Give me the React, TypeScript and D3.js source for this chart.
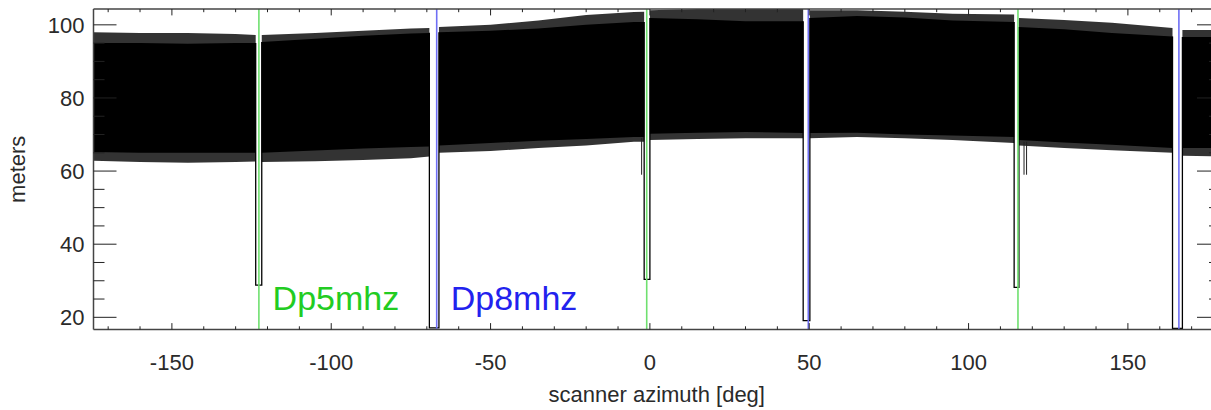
import { useEffect, useRef } from "react";
import * as d3 from "d3";

// envelope nodes of the dense range signal (deg)
const azimuth = [-174.6, -160, -145, -130, -123.7, -121.8, -105, -90, -75, -69.2, -66.2, -50, -35, -20, -5, -1.8, 0, 15, 30, 48.1, 50.2, 65, 80, 95, 114.3, 115.8, 130, 145, 164, 167.1, 178.9];
const upperTip = [98, 97.8, 97.8, 97.5, 97.2, 97.2, 97.8, 98.4, 99, 99.1, 99.4, 100, 101.2, 102.7, 103.5, 103.6, 104, 104.3, 104.3, 104.3, 104, 104, 103.6, 103, 102.8, 101.9, 101.3, 100.6, 99.1, 98.6, 98.6];
const upperCore = [95, 95, 94.8, 95, 95, 95.3, 96.2, 97, 97.6, 97.8, 98, 98.4, 99, 100, 100.8, 100.8, 101.9, 101.5, 101, 101, 101.9, 102.4, 102, 101.2, 100.8, 99.4, 98.8, 97.8, 96.8, 96.7, 96.7];
const lowerCore = [65.2, 65, 65, 65, 65, 65, 65.6, 66.2, 66.6, 66.7, 67, 67.7, 68.3, 68.8, 69.3, 69.3, 70.2, 70.5, 70.7, 70.4, 70.4, 70.5, 70, 69.7, 69.3, 68.5, 67.8, 67.2, 66.3, 66.3, 66.3];
const lowerTip = [62.8, 62.5, 62.3, 62.5, 62.6, 62.5, 62.7, 63, 63.5, 64, 65, 65.5, 66.3, 67, 68, 68, 68.5, 68.8, 69, 69, 69, 69.3, 69, 68.5, 67.7, 67, 66.3, 65.7, 65, 64.2, 64];

// drop-outs where the beam hits the dipoles
const dipStart = [-123.7, -69.2, -1.8, 48.1, 114.3, 164];
const dipEnd = [-121.8, -66.2, 0, 50.2, 115.8, 167.1];
const dipBottom = [28.8, 17.1, 30.4, 19.1, 28.2, 17.0];

// isolated short returns
const strayAz = [-2.6, 117.4, 118.2];
const strayTop = [69, 68, 68];
const strayLow = [59, 59, 59];

// dipole positions
const dp5Azimuth = [-122.7, -1.0, 115.5];
const dp8Azimuth = [-66.9, 49.7, 166.0];
const labelText = ["Dp5mhz", "Dp8mhz"];
const labelAz = [-118.4, -62.5];
const labelValue = [22.0, 22.0];

const xTicks = [-150, -100, -50, 0, 50, 100, 150];
const yTicks = [20, 40, 60, 80, 100];

export default function App() {
    const svgRef = useRef<SVGSVGElement>(null);

    useEffect(() => {
        if (!svgRef.current) return;
        const svg = d3.select(svgRef.current);
        svg.selectAll("*").remove();

        const left = 93.5, right = 1220, top = 9, bottom = 329.5;
        const font = "'Liberation Sans', Arial, Helvetica, sans-serif";
        const txt = "#2a2a2a";
        const fs = 22;

        const x = d3.scaleLinear().domain([-174.6, 178.9]).range([left, right]);
        const y = d3.scaleLinear().domain([16.67, 104.33]).range([bottom, top]);

        svg.append("clipPath").attr("id", "plot")
            .append("rect").attr("x", left).attr("y", top).attr("width", right - left).attr("height", bottom - top);

        const g = svg.append("g").attr("clip-path", "url(#plot)");

        // split the envelope at the drop-outs
        const pts = azimuth.map((a, i) => ({
            a, seg: dipEnd.filter(e => e <= a).length,
            ut: upperTip[i], uc: upperCore[i], lc: lowerCore[i], lt: lowerTip[i],
        }));
        const segs = d3.groups(pts, d => d.seg).map(d => d[1]);

        const outer = d3.area<any>().x(d => x(d.a)).y0(d => y(d.lt)).y1(d => y(d.ut));
        const inner = d3.area<any>().x(d => x(d.a)).y0(d => y(d.lc)).y1(d => y(d.uc));

        segs.forEach(s => {
            g.append("path").attr("d", outer(s)).attr("fill", "#000").attr("opacity", 0.8);
            g.append("path").attr("d", inner(s)).attr("fill", "#000");
        });

        // drop-out outlines
        dipStart.forEach((s, i) => {
            const i0 = azimuth.indexOf(s);
            const i1 = azimuth.indexOf(dipEnd[i]);
            const p = d3.path();
            p.moveTo(x(s), y(upperCore[i0]));
            p.lineTo(x(s), y(dipBottom[i]));
            p.lineTo(x(dipEnd[i]), y(dipBottom[i]));
            p.lineTo(x(dipEnd[i]), y(upperCore[i1]));
            g.append("path").attr("d", p.toString())
                .attr("fill", "none").attr("stroke", "#000").attr("stroke-width", 1.3);
        });

        strayAz.forEach((a, i) => {
            g.append("line").attr("x1", x(a)).attr("x2", x(a))
                .attr("y1", y(strayTop[i])).attr("y2", y(strayLow[i]))
                .attr("stroke", "#222").attr("stroke-width", 1);
        });

        // dipole markers
        dp5Azimuth.forEach(a => {
            g.append("line").attr("x1", x(a)).attr("x2", x(a)).attr("y1", top).attr("y2", bottom)
                .attr("stroke", "#6fe06f").attr("stroke-width", 1.6);
        });
        dp8Azimuth.forEach(a => {
            g.append("line").attr("x1", x(a)).attr("x2", x(a)).attr("y1", top).attr("y2", bottom)
                .attr("stroke", "#6f6ff5").attr("stroke-width", 1.6);
        });

        labelText.forEach((t, i) => {
            svg.append("text").attr("x", x(labelAz[i])).attr("y", y(labelValue[i]))
                .attr("font-family", font).attr("font-size", 34)
                .attr("fill", i === 0 ? "#22cc22" : "#2222ee").text(t);
        });

        // frame
        const axis = svg.append("g").attr("stroke", "#444").attr("stroke-width", 1.5);
        axis.append("line").attr("x1", left).attr("x2", right).attr("y1", bottom).attr("y2", bottom);
        axis.append("line").attr("x1", left).attr("x2", right).attr("y1", top).attr("y2", top);
        axis.append("line").attr("x1", left).attr("x2", left).attr("y1", top).attr("y2", bottom);
        axis.append("line").attr("x1", right).attr("x2", right).attr("y1", top).attr("y2", bottom);

        const ticks = svg.append("g").attr("stroke", "#222").attr("stroke-width", 1);
        d3.range(-170, 171, 10).forEach(v => {
            const len = v % 50 === 0 ? 6.4 : 3.2;
            ticks.append("line").attr("x1", x(v)).attr("x2", x(v)).attr("y1", bottom).attr("y2", bottom - len);
            ticks.append("line").attr("x1", x(v)).attr("x2", x(v)).attr("y1", top).attr("y2", top + len);
        });
        d3.range(20, 101, 5).forEach(v => {
            const len = v % 20 === 0 ? 23 : 11;
            ticks.append("line").attr("x1", left).attr("x2", left + len).attr("y1", y(v)).attr("y2", y(v));
            ticks.append("line").attr("x1", right).attr("x2", right - len).attr("y1", y(v)).attr("y2", y(v));
        });

        xTicks.forEach(v => {
            svg.append("text").attr("x", x(v)).attr("y", 370)
                .attr("text-anchor", "middle").attr("font-family", font).attr("font-size", fs)
                .attr("fill", txt).text(v);
        });
        yTicks.forEach(v => {
            svg.append("text").attr("x", 84.5).attr("y", y(v)).attr("dy", "0.36em")
                .attr("text-anchor", "end").attr("font-family", font).attr("font-size", fs)
                .attr("fill", txt).text(v);
        });

        svg.append("text").attr("x", (left + right) / 2).attr("y", 402)
            .attr("text-anchor", "middle").attr("font-family", font).attr("font-size", fs)
            .attr("fill", txt).text("scanner azimuth [deg]");
        svg.append("text")
            .attr("transform", `translate(25,${(top + bottom) / 2}) rotate(-90)`)
            .attr("text-anchor", "middle").attr("font-family", font).attr("font-size", fs)
            .attr("fill", txt).text("meters");
    }, []);

    return (
        <svg ref={svgRef} width={1211} height={410}
            style={{ position: "absolute", left: 0, top: 0, background: "#fff" }} />
    );
}
